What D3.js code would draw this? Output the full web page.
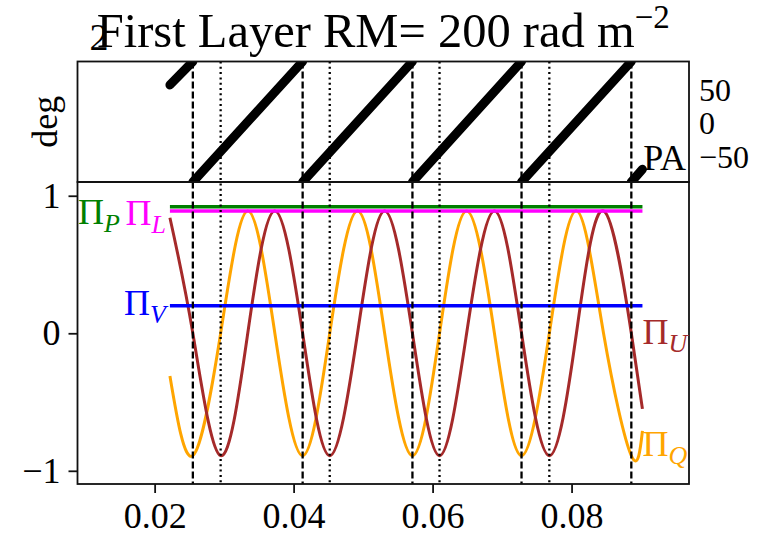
<!DOCTYPE html>
<meta charset="utf-8">
<head>
  <title>First Layer RM</title>
</head>

<style>
body {
  margin: 0;
  background: #fff;
}
text {
  font-family: "Liberation Serif", "DejaVu Serif", serif;
  fill: #000;
}
</style>

<body>
  <div id="content"></div>

  <script src="https://cdnjs.cloudflare.com/ajax/libs/d3/7.8.5/d3.min.js"></script>

  <script>
// lambda^2 (m^2) knots for the Stokes fractions
var lam2 = [0.0222, 0.0255, 0.0295, 0.0334, 0.0373, 0.0413, 0.0452, 0.0492, 0.0531,
            0.0571, 0.0610, 0.0649, 0.0689, 0.0728, 0.0768, 0.0807, 0.0846, 0.0886, 0.0902];
var piQ = [-0.31, -0.89, 0, 0.89, 0, -0.89, 0, 0.89, 0, -0.89, 0, 0.89, 0, -0.89, 0, 0.89, 0, -0.89, -0.71];
var piU = [0.84, 0, -0.89, 0, 0.89, 0, -0.89, 0, 0.89, 0, -0.89, 0, 0.89, 0, -0.89, 0, 0.89, 0, -0.55];

// constant fractions
var piP = 0.92;
var piL = 0.89;
var piV = 0.2;

// polarisation angle, wraps at +-90 deg
var paLam2 = [0.0222, 0.0255, 0.0255, 0.0413, 0.0413, 0.0571, 0.0571, 0.0728, 0.0728, 0.0886, 0.0886, 0.0902];
var paDeg = [55, 90, -90, 90, -90, 90, -90, 90, -90, 90, -90, -71];

// marker lines
var wrapLam2 = [0.0255, 0.0413, 0.0571, 0.0728, 0.0886];
var dotLam2 = [0.0295, 0.0452, 0.0610, 0.0768];

var xTicks = [0.02, 0.04, 0.06, 0.08];
var piTicks = [-1, 0, 1];
var paTicks = [-50, 0, 50];

var width = 763, height = 540;
var left = 77.5, right = 689, top1 = 61.5, mid = 182, bottom = 484;
var fs = 36;

var svg = d3.select('#content').append('svg')
  .attr('width', width)
  .attr('height', height);

var x = d3.scaleLinear().domain([0.0089, 0.0969]).range([left, right]);
var yPA = d3.scaleLinear().domain([-90, 90]).range([mid, top1]);
var yPi = d3.scaleLinear().domain([-1.096, 1.1]).range([bottom, mid]);

var minus = function(d) { return d < 0 ? '\u2212' + Math.abs(d) : '' + d; };

svg.append('clipPath').attr('id', 'clipTop')
  .append('rect')
  .attr('x', left).attr('y', top1)
  .attr('width', right - left).attr('height', mid - top1);

svg.append('clipPath').attr('id', 'clipBot')
  .append('rect')
  .attr('x', left).attr('y', mid)
  .attr('width', right - left).attr('height', bottom - mid);

// PA panel
var paPts = paLam2.map(function(d, i) { return [d, paDeg[i]]; });
var segs = [];
paPts.forEach(function(p, i) {
  if (i === 0 || p[1] < paPts[i - 1][1]) segs.push([]);
  segs[segs.length - 1].push(p);
});

var paLine = d3.line().x(function(d) { return x(d[0]); }).y(function(d) { return yPA(d[1]); });

svg.append('g').attr('clip-path', 'url(#clipTop)')
  .selectAll('path').data(segs).join('path')
  .attr('d', paLine)
  .attr('fill', 'none')
  .attr('stroke', '#000')
  .attr('stroke-width', 9)
  .attr('stroke-linecap', 'round');

// Stokes panel
var g = svg.append('g').attr('clip-path', 'url(#clipBot)');

var curve = function(vals) {
  return d3.line()
    .x(function(d, i) { return x(lam2[i]); })
    .y(function(d) { return yPi(d); })
    .curve(d3.curveNatural)(vals);
};

g.append('path').attr('d', curve(piQ))
  .attr('fill', 'none').attr('stroke', 'orange').attr('stroke-width', 3);
g.append('path').attr('d', curve(piU))
  .attr('fill', 'none').attr('stroke', 'brown').attr('stroke-width', 3);

var flat = [
  {v: piP, c: 'green'},
  {v: piL, c: 'magenta'},
  {v: piV, c: 'blue'}
];
g.selectAll('line.flat').data(flat).join('line')
  .attr('class', 'flat')
  .attr('x1', x(lam2[0])).attr('x2', x(lam2[lam2.length - 1]))
  .attr('y1', function(d) { return yPi(d.v); })
  .attr('y2', function(d) { return yPi(d.v); })
  .attr('stroke', function(d) { return d.c; })
  .attr('stroke-width', 3.5);

// vertical markers across both panels
svg.selectAll('line.wrap').data(wrapLam2).join('line')
  .attr('class', 'wrap')
  .attr('x1', x).attr('x2', x)
  .attr('y1', top1).attr('y2', bottom)
  .attr('stroke', '#000').attr('stroke-width', 2.3)
  .attr('stroke-dasharray', '7,3');

svg.selectAll('line.dot').data(dotLam2).join('line')
  .attr('class', 'dot')
  .attr('x1', x).attr('x2', x)
  .attr('y1', top1).attr('y2', bottom)
  .attr('stroke', '#000').attr('stroke-width', 2.3)
  .attr('stroke-dasharray', '2,3.3');

// frames
[[top1, mid], [mid, bottom]].forEach(function(r) {
  svg.append('rect')
    .attr('x', left).attr('y', r[0])
    .attr('width', right - left).attr('height', r[1] - r[0])
    .attr('fill', 'none').attr('stroke', '#111').attr('stroke-width', 1.8);
});

// axes
var axL = svg.append('g').attr('transform', 'translate(' + left + ',0)')
  .call(d3.axisLeft(yPi).tickValues(piTicks).tickFormat(minus).tickSize(9).tickPadding(8));
var axB = svg.append('g').attr('transform', 'translate(0,' + bottom + ')')
  .call(d3.axisBottom(x).tickValues(xTicks).tickFormat(d3.format('.2f')).tickSize(9).tickPadding(9));
var axR = svg.append('g').attr('transform', 'translate(' + right + ',0)')
  .call(d3.axisRight(yPA).tickValues(paTicks).tickFormat(minus).tickSize(0).tickPadding(10));

[axL, axB, axR].forEach(function(a) {
  a.select('.domain').remove();
  a.selectAll('line').attr('stroke', '#111').attr('stroke-width', 1.8);
  a.selectAll('text').attr('font-size', fs).attr('font-family', '"Liberation Serif", serif');
});
axR.selectAll('text').attr('font-size', 32).attr('dy', '0.38em');

// labels
function piLabel(sub, color, xpos, ypos, anchor) {
  var t = svg.append('text')
    .attr('x', xpos).attr('y', ypos)
    .attr('text-anchor', anchor)
    .attr('font-size', fs)
    .style('fill', color);
  t.append('tspan').text('\u03A0');
  t.append('tspan').attr('font-style', 'italic').attr('font-size', 26).attr('dy', 8).text(sub);
}

piLabel('P', 'green', x(lam2[0]) - 50, yPi(piP) + 17, 'end');
piLabel('L', 'magenta', x(lam2[0]) - 4, yPi(piL) + 14, 'end');
piLabel('V', 'blue', x(lam2[0]) - 4, yPi(piV) + 9, 'end');
piLabel('U', 'brown', x(lam2[lam2.length - 1]), yPi(-0.08), 'start');
piLabel('Q', 'orange', x(lam2[lam2.length - 1]), yPi(-0.89), 'start');

svg.append('text')
  .attr('x', right - 3).attr('y', mid - 12)
  .attr('text-anchor', 'end')
  .attr('font-size', fs)
  .text('PA');

svg.append('text')
  .attr('transform', 'translate(57,' + ((top1 + mid) / 2) + ') rotate(-90)')
  .attr('text-anchor', 'middle')
  .attr('font-size', fs)
  .text('deg');

// title
var title = svg.append('text')
  .attr('x', (left + right) / 2).attr('y', 47)
  .attr('text-anchor', 'middle')
  .attr('font-size', 48.5);
title.append('tspan').text('First Layer RM= 200 rad m');
title.append('tspan').attr('font-size', 33).attr('dy', -19).text('\u22122');

svg.append('text')
  .attr('x', 99).attr('y', 50)
  .attr('text-anchor', 'middle')
  .attr('font-size', 38)
  .text('2');
  </script>
</body>
</html>
